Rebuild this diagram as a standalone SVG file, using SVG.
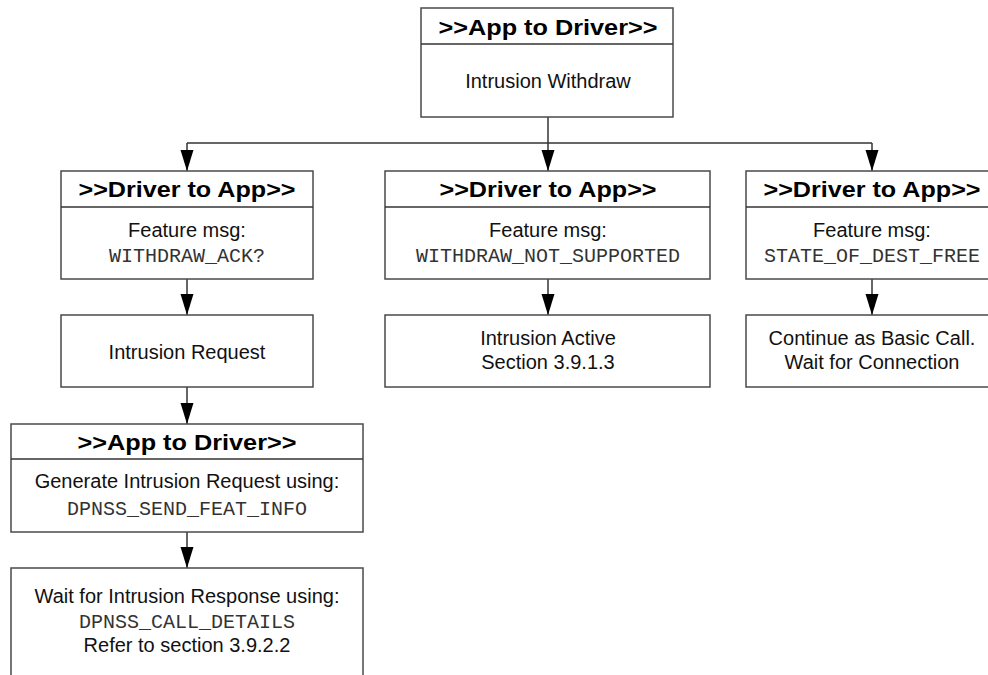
<svg xmlns="http://www.w3.org/2000/svg" width="988" height="675" viewBox="0 0 988 675">
  <style>
    .box { fill: #ffffff; stroke: #4a4a4a; stroke-width: 1.5; }
    .rule { stroke: #333333; stroke-width: 1.3; }
    .hdr { font-family: "Liberation Sans", Arial, sans-serif; font-weight: bold; font-size: 22px; fill: #000; text-anchor: middle; }
    .txt { font-family: "Liberation Sans", Arial, sans-serif; font-size: 20px; fill: #111; text-anchor: middle; }
    .mono { font-family: "Liberation Mono", "Courier New", monospace; font-size: 20px; fill: #333; text-anchor: middle; }
    .wire { fill: none; stroke: #333333; stroke-width: 1.5; }
  </style>
  <defs>
    <marker id="arrow" markerUnits="userSpaceOnUse" markerWidth="22" markerHeight="14" refX="21" refY="6.5" orient="auto">
      <path d="M0,0 L21,6.5 L0,13 z" fill="#000"/>
    </marker>
  </defs>

  <rect width="988" height="675" fill="#ffffff"/>

  <!-- connectors -->
  <g id="connectors">
    <path class="wire" d="M548,117 V171" marker-end="url(#arrow)"/>
    <path class="wire" d="M187,143 H872"/>
    <path class="wire" d="M187,143 V171" marker-end="url(#arrow)"/>
    <path class="wire" d="M872,143 V171" marker-end="url(#arrow)"/>
    <path class="wire" d="M187,279 V315" marker-end="url(#arrow)"/>
    <path class="wire" d="M548,279 V315" marker-end="url(#arrow)"/>
    <path class="wire" d="M872,279 V315" marker-end="url(#arrow)"/>
    <path class="wire" d="M187,387 V424" marker-end="url(#arrow)"/>
    <path class="wire" d="M187,532 V568" marker-end="url(#arrow)"/>
  </g>

  <!-- top: application to driver -->
  <g id="withdraw">
    <rect class="box" x="421" y="8" width="252" height="109"/>
    <line class="rule" x1="421" y1="44" x2="673" y2="44"/>
    <text class="hdr" x="548" y="35" textLength="219" lengthAdjust="spacingAndGlyphs">&gt;&gt;App to Driver&gt;&gt;</text>
    <text class="txt" x="548" y="88">Intrusion Withdraw</text>
  </g>

  <!-- left branch -->
  <g id="ack">
    <rect class="box" x="61" y="171" width="252" height="108"/>
    <line class="rule" x1="61" y1="207" x2="313" y2="207"/>
    <text class="hdr" x="187" y="197" textLength="217" lengthAdjust="spacingAndGlyphs">&gt;&gt;Driver to App&gt;&gt;</text>
    <text class="txt" x="187" y="237">Feature msg:</text>
    <text class="mono" x="187" y="262">WITHDRAW_ACK?</text>
  </g>

  <g id="intrusion-request">
    <rect class="box" x="61" y="315" width="252" height="72"/>
    <text class="txt" x="187" y="359">Intrusion Request</text>
  </g>

  <g id="send-feat-info">
    <rect class="box" x="11" y="424" width="352" height="108"/>
    <line class="rule" x1="11" y1="459" x2="363" y2="459"/>
    <text class="hdr" x="187" y="450" textLength="219" lengthAdjust="spacingAndGlyphs">&gt;&gt;App to Driver&gt;&gt;</text>
    <text class="txt" x="187" y="488">Generate Intrusion Request using:</text>
    <text class="mono" x="187" y="515">DPNSS_SEND_FEAT_INFO</text>
  </g>

  <g id="wait-response">
    <rect class="box" x="11" y="568" width="352" height="130"/>
    <text class="txt" x="187" y="603">Wait for Intrusion Response using:</text>
    <text class="mono" x="187" y="628">DPNSS_CALL_DETAILS</text>
    <text class="txt" x="187" y="652">Refer to section 3.9.2.2</text>
  </g>

  <!-- middle branch -->
  <g id="not-supported">
    <rect class="box" x="385" y="171" width="325" height="108"/>
    <line class="rule" x1="385" y1="207" x2="710" y2="207"/>
    <text class="hdr" x="548" y="197" textLength="217" lengthAdjust="spacingAndGlyphs">&gt;&gt;Driver to App&gt;&gt;</text>
    <text class="txt" x="548" y="237">Feature msg:</text>
    <text class="mono" x="548" y="262">WITHDRAW_NOT_SUPPORTED</text>
  </g>

  <g id="intrusion-active">
    <rect class="box" x="385" y="315" width="325" height="72"/>
    <text class="txt" x="548" y="345">Intrusion Active</text>
    <text class="txt" x="548" y="369">Section 3.9.1.3</text>
  </g>

  <!-- right branch -->
  <g id="dest-free">
    <rect class="box" x="746" y="171" width="252" height="108"/>
    <line class="rule" x1="746" y1="207" x2="998" y2="207"/>
    <text class="hdr" x="872" y="197" textLength="217" lengthAdjust="spacingAndGlyphs">&gt;&gt;Driver to App&gt;&gt;</text>
    <text class="txt" x="872" y="237">Feature msg:</text>
    <text class="mono" x="872" y="262">STATE_OF_DEST_FREE</text>
  </g>

  <g id="basic-call">
    <rect class="box" x="746" y="315" width="252" height="72"/>
    <text class="txt" x="872" y="345">Continue as Basic Call.</text>
    <text class="txt" x="872" y="369">Wait for Connection</text>
  </g>
</svg>
